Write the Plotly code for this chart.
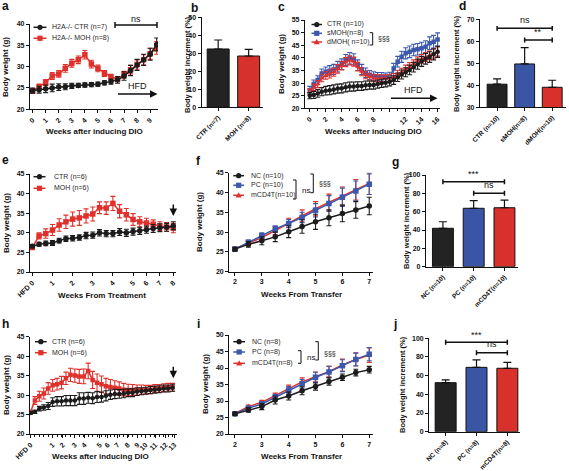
import plotly.graph_objects as go

W, H = 569, 471
FONT = 'Liberation Sans'
BLACK = '#1c1c1c'
RED = '#e0302c'
BLUE = '#3b58ad'
BAR_RED = '#d8302b'
BAR_BLUE = '#3a55a5'
BAR_BLACK = '#232323'

# ---------------- data ----------------
# panel a
a_weeks = [0, 0.5, 1, 1.5, 2, 2.5, 3, 3.5, 4, 4.5, 5, 5.5, 6, 6.5, 7, 7.5, 8, 8.5, 9, 9.5]
a_ctr = [24.4, 24.6, 24.8, 25.0, 25.2, 25.3, 25.5, 25.6, 25.7, 25.8, 25.9, 26.2, 26.5, 26.9, 27.8, 29.1, 30.4, 31.6, 32.9, 35.2]
a_ctr_err = [0.6, 0.8, 0.9, 0.9, 0.8, 0.7, 0.6, 0.5, 0.5, 0.5, 0.5, 0.5, 0.6, 0.8, 1.0, 1.2, 1.3, 1.3, 1.4, 1.5]
a_moh = [24.3, 25.3, 26.3, 27.8, 28.3, 29.6, 30.8, 31.6, 32.8, 30.6, 29.6, 28.4, 27.6, 27.1, 28.1, 29.3, 30.5, 31.6, 33.0, 34.4]
a_moh_err = [0.5, 0.6, 0.7, 0.8, 0.8, 0.9, 0.9, 0.9, 1.0, 0.9, 0.8, 0.7, 0.6, 0.6, 0.8, 1.0, 1.1, 1.2, 1.3, 1.5]
a_names = ['H2A-/- CTR (n=7)', 'H2A-/- MOH (n=8)']

# panel b
b_cats = ['CTR (n=7)', 'MOH (n=8)']
b_vals = [32.4, 28.5]
b_err = [5.0, 3.7]

# panel c
c_weeks = [0, 0.5, 1, 1.5, 2, 2.5, 3, 3.5, 4, 4.5, 5, 5.5, 6, 6.5, 7, 7.5, 8, 8.5,
           9, 9.5, 10, 10.5, 11, 11.5, 12, 12.5, 13, 13.5, 14, 14.5, 15, 15.5, 16]
c_ctr = [25.0, 25.3, 25.9, 26.6, 27.0, 27.2, 27.5, 27.8, 27.9, 28.3, 28.6, 28.6, 28.8, 28.8, 29.1, 29.2, 29.2,
         29.6, 29.9, 30.1, 30.5, 31.2, 32.3, 33.4, 34.3, 35.2, 36.3, 37.5, 38.6, 39.6, 40.3, 41.4, 42.4]
c_ctr_err = [1.2, 1.4, 1.5, 1.6, 1.7, 1.8, 1.8, 1.8, 1.8, 1.8, 1.8, 1.8, 1.7, 1.7, 1.7, 1.6, 1.6,
             1.6, 1.6, 1.6, 1.6, 1.7, 1.7, 1.8, 1.8, 1.9, 1.9, 2.0, 2.0, 2.1, 2.1, 2.2, 2.2]
c_smoh = [27.2, 29.6, 31.2, 33.8, 34.5, 34.9, 35.4, 36.5, 37.5, 39.1, 39.8, 39.4, 37.1, 35.4, 34.1, 33.2, 32.8,
          32.5, 32.5, 32.3, 32.5, 35.8, 38.5, 40.4, 41.8, 42.4, 43.1, 43.4, 43.8, 44.4, 45.8, 46.4, 47.3]
c_smoh_err = [1.5, 1.6, 1.7, 1.8, 1.9, 2.0, 2.0, 2.1, 2.1, 2.2, 2.3, 2.2, 2.1, 2.0, 1.9, 1.8, 1.7,
              1.7, 1.7, 1.7, 1.8, 2.0, 2.1, 2.2, 2.2, 2.3, 2.3, 2.3, 2.4, 2.4, 2.5, 2.5, 2.6]
c_dmoh = [26.5, 28.3, 29.6, 32.0, 33.0, 33.6, 34.3, 35.6, 36.9, 38.3, 39.0, 38.5, 36.5, 34.5, 33.2, 32.5, 31.9,
          31.9, 31.9, 31.9, 31.9, 32.4, 33.6, 34.4, 35.6, 36.5, 37.6, 38.8, 39.6, 40.3, 41.0, 41.7, 42.5]
c_dmoh_err = [1.2, 1.3, 1.4, 1.5, 1.5, 1.6, 1.6, 1.7, 1.7, 1.8, 1.8, 1.8, 1.7, 1.6, 1.5, 1.4, 1.4,
              1.4, 1.4, 1.4, 1.4, 1.4, 1.5, 1.5, 1.5, 1.6, 1.6, 1.6, 1.7, 1.7, 1.7, 1.8, 1.8]
c_names = ['CTR (n=10)', 'sMOH(n=8)', 'dMOH( n=10)']

# panel d
d_cats = ['CTR (n=10)', 'sMOH(n=8)', 'dMOH(n=10)']
d_vals = [40.5, 49.7, 39.1]
d_err = [2.4, 7.4, 3.2]

# panel e
e_idx = [0, 1, 2, 3, 4, 5, 6, 7, 8, 9, 10, 11, 12, 13, 14, 15, 16, 17, 18, 19, 20, 21]
e_tickpos = [0, 3, 6, 9, 12, 15, 17, 19, 21]
e_ticklabels = ['HFD 0', '1', '2', '3', '4', '5', '6', '7', '8']
e_ctr = [26.6, 27.1, 27.3, 27.4, 28.0, 28.5, 28.6, 28.8, 29.3, 29.4, 30.0, 29.8, 29.8, 30.2, 30.0, 30.3,
         30.5, 30.8, 31.1, 31.3, 31.4, 31.8]
e_ctr_err = [0.4, 0.5, 0.6, 0.6, 0.6, 0.7, 0.7, 0.7, 0.8, 0.8, 0.8, 0.8, 0.8, 0.9, 0.9, 0.9,
             0.9, 0.9, 1.0, 1.0, 1.0, 1.0]
e_moh = [26.3, 29.2, 29.8, 30.7, 32.0, 32.8, 33.5, 33.8, 34.3, 34.8, 36.4, 36.3, 37.5, 35.5, 34.6, 33.4,
         32.8, 32.5, 32.2, 31.7, 31.5, 31.2]
e_moh_err = [0.6, 0.8, 1.2, 1.4, 1.6, 1.7, 1.8, 1.9, 1.8, 1.8, 1.5, 1.6, 1.8, 1.7, 1.6, 1.5,
             1.3, 1.2, 1.1, 1.1, 1.1, 1.2]
e_names = ['CTR (n=6)', 'MOH (n=6)']

# panel f
f_weeks = [2, 2.5, 3, 3.5, 4, 4.5, 5, 5.5, 6, 6.5, 7]
f_nc = [25.7, 26.9, 27.8, 28.8, 30.1, 31.4, 32.6, 33.6, 34.7, 35.6, 36.6]
f_nc_err = [0.4, 0.7, 1.0, 1.2, 1.5, 1.7, 1.9, 2.0, 2.1, 2.1, 2.2]
f_pc = [25.7, 27.4, 29.1, 30.8, 32.2, 33.7, 35.5, 37.2, 38.8, 40.4, 42.1]
f_pc_err = [0.5, 0.6, 0.7, 0.8, 1.0, 1.3, 1.7, 2.0, 2.3, 2.5, 2.6]
f_cd4 = [25.8, 27.3, 28.6, 30.4, 32.3, 34.1, 35.9, 37.5, 39.1, 40.7, 42.3]
f_cd4_err = [0.4, 0.6, 0.8, 1.0, 1.2, 1.5, 1.8, 2.1, 2.3, 2.6, 2.8]
f_names = ['NC (n=10)', 'PC (n=10)', 'mCD4T(n=10)']

# panel g
g_cats = ['NC (n=10)', 'PC (n=10)', 'mCD4T(n=10)']
g_vals = [41.9, 63.7, 64.3]
g_err = [7.1, 8.3, 8.4]

# panel h
h_idx = [0, 1, 2, 3, 4, 5, 6, 7, 8, 9, 10, 11, 12, 13, 14, 15, 16, 17, 18, 19, 20,
         21, 22, 23, 24, 25, 26, 27, 28, 29, 30, 31, 32]
h_tickpos = [0, 5, 7.3, 10, 12.2, 15.6, 17.4, 19.6, 21.9, 24.1, 25.9, 28.1, 30.4, 32.4]
h_ticklabels = ['HFD 0', '1', '2', '3', '4', '5', '6', '7', '8', '9', '10', '11', '12', '13']
h_ctr = [25.4, 25.7, 26.5, 26.8, 27.2, 28.2, 28.4, 28.4, 28.6, 28.6, 28.6, 29.1, 29.1, 29.3, 29.2, 29.5, 29.5,
         29.8, 30.1, 30.3, 30.3, 30.4, 30.6, 30.6, 30.9, 31.0, 31.1, 31.3, 31.4, 31.5, 31.7, 31.7, 31.9]
h_ctr_err = [0.3, 0.4, 0.6, 0.7, 0.9, 1.1, 1.2, 1.2, 1.3, 1.3, 1.3, 1.5, 1.5, 1.4, 1.4, 1.4, 1.3,
             1.3, 1.2, 1.2, 1.1, 1.1, 1.0, 1.0, 1.0, 0.9, 0.9, 0.9, 0.9, 0.9, 0.9, 0.9, 0.9]
h_moh = [25.6, 28.6, 29.7, 30.4, 31.7, 32.5, 32.8, 33.2, 34.3, 35.2, 35.0, 34.8, 34.8, 36.2, 33.9, 33.2, 32.8,
         32.3, 32.1, 31.9, 31.7, 31.4, 31.3, 31.3, 31.3, 31.4, 31.4, 31.4, 31.7, 31.7, 31.9, 32.0, 32.0]
h_moh_err = [0.5, 1.0, 1.3, 1.4, 1.5, 1.5, 1.5, 1.6, 1.6, 1.7, 1.7, 1.8, 1.9, 2.0, 2.2, 2.2, 2.1,
             2.0, 1.9, 1.8, 1.7, 1.6, 1.5, 1.4, 1.3, 1.2, 1.1, 1.1, 1.0, 1.0, 1.0, 1.0, 1.0]
h_names = ['CTR (n=6)', 'MOH (n=6)']

# panel i
i_weeks = [2, 2.5, 3, 3.5, 4, 4.5, 5, 5.5, 6, 6.5, 7]
i_nc = [26.1, 27.3, 28.3, 30.3, 31.5, 33.1, 34.4, 35.9, 37.2, 38.6, 39.5]
i_nc_err = [0.4, 0.7, 0.9, 1.2, 1.2, 1.2, 1.1, 1.1, 1.0, 1.0, 1.0]
i_pc = [26.1, 27.8, 29.1, 31.1, 33.3, 35.2, 37.2, 38.8, 40.7, 42.6, 44.2]
i_pc_err = [0.4, 0.6, 0.7, 0.9, 1.1, 1.3, 1.5, 1.7, 1.8, 1.9, 2.0]
i_cd4 = [26.2, 28.3, 29.6, 31.6, 33.8, 35.8, 37.4, 38.9, 40.9, 42.6, 43.9]
i_cd4_err = [0.4, 0.5, 0.6, 0.8, 1.0, 1.2, 1.4, 1.6, 1.8, 2.0, 2.2]
i_names = ['NC (n=8)', 'PC (n=8)', 'mCD4T(n=8)']

# panel j
j_cats = ['NC (n=8)', 'PC (n=8)', 'mCD4T(n=8)']
j_vals = [52.5, 68.9, 67.9]
j_err = [2.9, 7.9, 6.4]

# ---------------- helpers ----------------
def px(x):
    return x / W


def py(y):
    return 1 - y / H


fig = go.Figure()
shapes = []
annotations = []
layout = {}

# panel frames in pixels: x0, x1, ytop, ybottom
FRAMES = {
    1: (30, 158, 24, 109.3),
    2: (201.7, 263, 17.3, 107.3),
    3: (305, 440, 20, 108.3),
    4: (480, 566, 19.3, 107.3),
    5: (30, 176, 174, 272),
    6: (229.3, 373, 172.7, 271.7),
    7: (426, 518, 175, 266.7),
    8: (30, 177, 336.7, 434),
    9: (229.3, 373, 335, 434),
    10: (429.3, 520, 338.3, 431.7),
}

TICKFONT = dict(family=FONT, size=7, color='#111', weight='bold')
LEGSIZE = 7


def base_axis():
    return dict(showline=True, linecolor='#111', linewidth=1.3, ticks='outside', ticklen=3,
                tickwidth=1.1, tickcolor='#111', showgrid=False, zeroline=False, automargin=False,
                tickfont=TICKFONT, fixedrange=True)


def make_axes(n, xr, yr, ydtick, xextra=None, yextra=None):
    x0, x1, yt, yb = FRAMES[n]
    xa = base_axis()
    xa.update(domain=[px(x0), px(x1)], range=xr, anchor='y%d' % n)
    if xextra:
        xa.update(xextra)
    ya = base_axis()
    ya.update(domain=[py(yb), py(yt)], range=yr, anchor='x%d' % n, dtick=ydtick, tick0=0)
    if yextra:
        ya.update(yextra)
    layout['xaxis%d' % n] = xa
    layout['yaxis%d' % n] = ya


def line_trace(n, x, y, err, color, symbol, size=5.5):
    fig.add_trace(go.Scatter(
        x=x, y=y, xaxis='x%d' % n, yaxis='y%d' % n, mode='lines+markers',
        line=dict(color=color, width=1.5),
        marker=dict(color=color, symbol=symbol, size=size, line=dict(width=0)),
        error_y=dict(type='data', array=err, color=color, thickness=1.1, width=2.5),
        showlegend=False, hoverinfo='skip'))


def bar_trace(n, cats, vals, err, colors, width):
    fig.add_trace(go.Bar(
        x=list(range(len(cats))), y=vals, xaxis='x%d' % n, yaxis='y%d' % n, width=width,
        marker=dict(color=colors, line=dict(color='#111', width=1)),
        error_y=dict(type='data', symmetric=False, array=err, arrayminus=[0] * len(cats),
                     color='#111', thickness=1.2, width=4),
        showlegend=False, hoverinfo='skip'))


def text(x, y, s, size=8, bold=False, xanchor='center', yanchor='middle', angle=0, color='#111'):
    annotations.append(dict(x=px(x), y=py(y), xref='paper', yref='paper', text=s, showarrow=False,
                            xanchor=xanchor, yanchor=yanchor, textangle=angle,
                            font=dict(family=FONT, size=size, color=color,
                                      weight='bold' if bold else 'normal')))


def pline(x0, y0, x1, y1, color='#111', width=1.2):
    shapes.append(dict(type='line', xref='paper', yref='paper', x0=px(x0), y0=py(y0), x1=px(x1), y1=py(y1),
                       line=dict(color=color, width=width)))


def legend_entry(lx0, lx1, y, color, symbol, label, tx):
    pline(lx0, y, lx1, y, color=color, width=1.5)
    cx = (lx0 + lx1) / 2
    r = 2.6
    if symbol == 'circle':
        shapes.append(dict(type='circle', xref='paper', yref='paper', x0=px(cx - r), x1=px(cx + r),
                           y0=py(y + r), y1=py(y - r), fillcolor=color, line=dict(width=0)))
    elif symbol == 'square':
        shapes.append(dict(type='rect', xref='paper', yref='paper', x0=px(cx - r), x1=px(cx + r),
                           y0=py(y + r), y1=py(y - r), fillcolor=color, line=dict(width=0)))
    else:
        path = 'M %f %f L %f %f L %f %f Z' % (px(cx - 3), py(y + 2.2), px(cx + 3), py(y + 2.2), px(cx), py(y - 3))
        shapes.append(dict(type='path', xref='paper', yref='paper', path=path, fillcolor=color,
                           line=dict(width=0)))
    text(tx, y, label, size=LEGSIZE, xanchor='left', color='#2a2a2a')


def rbracket(x, y0, y1):
    pline(x - 3, y0, x, y0, width=1)
    pline(x, y0, x, y1, width=1)
    pline(x - 3, y1, x, y1, width=1)


def sig_bar(n, i0, i1, v, cap, label, dv):
    xr, yr = 'x%d' % n, 'y%d' % n
    shapes.append(dict(type='line', xref=xr, yref=yr, x0=i0, x1=i1, y0=v, y1=v, line=dict(color='#111', width=1.5)))
    shapes.append(dict(type='line', xref=xr, yref=yr, x0=i0, x1=i0, y0=v - cap, y1=v + cap, line=dict(color='#111', width=1.5)))
    shapes.append(dict(type='line', xref=xr, yref=yr, x0=i1, x1=i1, y0=v - cap, y1=v + cap, line=dict(color='#111', width=1.5)))
    annotations.append(dict(x=(i0 + i1) / 2, y=v + dv, xref=xr, yref=yr, text=label, showarrow=False,
                            yanchor='bottom', font=dict(family=FONT, size=9, color='#111')))


def arrow(x_head, y_head, ax, ay):
    annotations.append(dict(x=px(x_head), y=py(y_head), xref='paper', yref='paper', ax=ax, ay=ay,
                            showarrow=True, arrowhead=2, arrowsize=1, arrowwidth=1.5,
                            arrowcolor='#111', text=''))


bar_tickfont = dict(family=FONT, size=6.5, color='#111', weight='bold')

# ---------------- panel a ----------------
make_axes(1, [-0.2, 9.6], [20, 40], 5,
          xextra=dict(tickmode='array', tickvals=list(range(10)), tickangle=-45))
line_trace(1, a_weeks, a_moh, a_moh_err, RED, 'square')
line_trace(1, a_weeks, a_ctr, a_ctr_err, BLACK, 'circle')
legend_entry(33.5, 46.5, 27.3, BLACK, 'circle', a_names[0], 50)
legend_entry(33.5, 46.5, 38.3, RED, 'square', a_names[1], 50)
pline(115, 25, 157, 25, width=1.5)
pline(115, 22, 115, 28, width=1.5)
pline(157, 22, 157, 28, width=1.5)
text(136, 19, 'ns', size=9)
arrow(157.5, 94, -41, 0)
text(137, 86, 'HFD', size=9)
text(94, 132, 'Weeks after inducing DIO', size=8, bold=True)
text(6, 67, 'Body weight (g)', size=8, bold=True, angle=-90)
text(5, 6, 'a', size=12, bold=True)

# ---------------- panel b ----------------
make_axes(2, [-0.54, 1.47], [0, 50], 10,
          xextra=dict(tickmode='array', tickvals=[0, 1], ticktext=b_cats, tickangle=-45, tickfont=bar_tickfont))
bar_trace(2, b_cats, b_vals, b_err, [BAR_BLACK, BAR_RED], 0.72)
text(188, 65, 'Body weight increment (%)', size=7.5, bold=True, angle=-90)
text(194, 8, 'b', size=12, bold=True)

# ---------------- panel c ----------------
make_axes(3, [-0.6, 16.3], [20, 55], 5,
          xextra=dict(tickmode='array', tickvals=[0, 2, 4, 6, 8, 10, 12, 14, 16], ticktext=['0', '2', '4', '6', '8', '', '12', '14', '16'],
                      tickangle=-45, minor=dict(dtick=1, tick0=0, ticks='outside', ticklen=2, tickcolor='#111')))
line_trace(3, c_weeks, c_smoh, c_smoh_err, BLUE, 'square', 4.5)
line_trace(3, c_weeks, c_dmoh, c_dmoh_err, RED, 'triangle-up', 4.5)
line_trace(3, c_weeks, c_ctr, c_ctr_err, BLACK, 'circle', 4.5)
legend_entry(311.5, 322, 24.5, BLACK, 'circle', c_names[0], 325)
legend_entry(311.5, 322, 33.3, BLUE, 'square', c_names[1], 325)
legend_entry(311.5, 322, 42, RED, 'triangle', c_names[2], 325)
rbracket(372.7, 32.7, 45)
text(376, 39, '§§§', size=7, xanchor='left')
arrow(437.5, 98.3, -48, 0)
text(413, 90, 'HFD', size=9)
text(373, 132, 'Weeks after inducing DIO', size=8, bold=True)
text(282, 64, 'Body weight (g)', size=8, bold=True, angle=-90)
text(281, 7, 'c', size=12, bold=True)

# ---------------- panel d ----------------
make_axes(4, [-0.62, 2.5], [30, 70], 10,
          xextra=dict(tickmode='array', tickvals=[0, 1, 2], ticktext=d_cats, tickangle=-45, tickfont=bar_tickfont))
bar_trace(4, d_cats, d_vals, d_err, [BAR_BLACK, BAR_BLUE, BAR_RED], 0.72)
sig_bar(4, 0, 2, 65.9, 1.1, 'ns', 0.8)
sig_bar(4, 1, 2, 60.6, 1.1, '**', 0.6)
text(457, 64, 'Body weight increment (%)', size=7.5, bold=True, angle=-90)
text(462, 6, 'd', size=12, bold=True)

# ---------------- panel e ----------------
make_axes(5, [-0.35, 21.4], [20, 45], 5,
          xextra=dict(tickmode='array', tickvals=e_tickpos, ticktext=e_ticklabels, tickangle=-45))
line_trace(5, e_idx, e_moh, e_moh_err, RED, 'square')
line_trace(5, e_idx, e_ctr, e_ctr_err, BLACK, 'circle')
legend_entry(33.5, 45.5, 176.7, BLACK, 'circle', e_names[0], 51.7)
legend_entry(33.5, 45.5, 188.3, RED, 'square', e_names[1], 51.7)
arrow(173.3, 216, 0, -13)
text(102, 295, 'Weeks From Treatment', size=8, bold=True)
text(6, 223, 'Body weight (g)', size=8, bold=True, angle=-90)
text(5, 160, 'e', size=12, bold=True)

# ---------------- panel f ----------------
make_axes(6, [1.79, 7.14], [20, 45], 5, xextra=dict(dtick=1, tick0=0))
line_trace(6, f_weeks, f_cd4, f_cd4_err, RED, 'triangle-up')
line_trace(6, f_weeks, f_pc, f_pc_err, BLUE, 'square')
line_trace(6, f_weeks, f_nc, f_nc_err, BLACK, 'circle')
legend_entry(233.3, 244, 175.7, BLACK, 'circle', f_names[0], 249.3)
legend_entry(233.3, 244, 185.3, BLUE, 'square', f_names[1], 249.3)
legend_entry(233.3, 244, 195.3, RED, 'triangle', f_names[2], 249.3)
rbracket(296, 180, 199)
text(300, 190.5, 'ns', size=8, xanchor='left')
rbracket(313.3, 174, 192.7)
text(316.5, 183.3, '§§§', size=7, xanchor='left')
text(302, 294.5, 'Weeks From Transfer', size=8, bold=True)
text(199, 222, 'Body weight (g)', size=8, bold=True, angle=-90)
text(199, 161, 'f', size=12, bold=True)

# ---------------- panel g ----------------
make_axes(7, [-0.55, 2.44], [0, 100], 20,
          xextra=dict(tickmode='array', tickvals=[0, 1, 2], ticktext=g_cats, tickangle=-45, tickfont=bar_tickfont))
bar_trace(7, g_cats, g_vals, g_err, [BAR_BLACK, BAR_BLUE, BAR_RED], 0.68)
sig_bar(7, 0, 2, 92.7, 2.7, '***', 0.5)
sig_bar(7, 1, 2, 80, 2.7, 'ns', 1.5)
text(406, 221, 'Body weight increment (%)', size=7.5, bold=True, angle=-90)
text(395, 162, 'g', size=12, bold=True)

# ---------------- panel h ----------------
make_axes(8, [-0.1, 33], [20, 45], 5,
          xextra=dict(tickmode='array', tickvals=h_tickpos, ticktext=h_ticklabels, tickangle=-45,
                      minor=dict(tickmode='array', tickvals=h_idx, ticks='outside', ticklen=2, tickcolor='#111')))
line_trace(8, h_idx, h_moh, h_moh_err, RED, 'square', 4.5)
line_trace(8, h_idx, h_ctr, h_ctr_err, BLACK, 'circle', 4.5)
legend_entry(35, 46.7, 341.7, BLACK, 'circle', h_names[0], 50)
legend_entry(35, 46.7, 352.7, RED, 'square', h_names[1], 50)
arrow(173.3, 378.3, 0, -13)
text(100, 456.7, 'Weeks after inducing DIO', size=8, bold=True)
text(6, 385, 'Body weight (g)', size=8, bold=True, angle=-90)
text(5, 324, 'h', size=12, bold=True)

# ---------------- panel i ----------------
make_axes(9, [1.79, 7.14], [20, 50], 5, xextra=dict(dtick=1, tick0=0))
line_trace(9, i_weeks, i_cd4, i_cd4_err, RED, 'triangle-up')
line_trace(9, i_weeks, i_pc, i_pc_err, BLUE, 'square')
line_trace(9, i_weeks, i_nc, i_nc_err, BLACK, 'circle')
legend_entry(233.3, 245, 341.7, BLACK, 'circle', i_names[0], 250)
legend_entry(233.3, 245, 352, BLUE, 'square', i_names[1], 250)
legend_entry(233.3, 245, 363.3, RED, 'triangle', i_names[2], 250)
rbracket(301, 350.7, 363.3)
text(305, 357.5, 'ns', size=8, xanchor='left')
rbracket(318.3, 341.7, 360)
text(321.5, 353.3, '§§§', size=7, xanchor='left')
text(302, 456.7, 'Weeks From Transfer', size=8, bold=True)
text(205, 384, 'Body weight (g)', size=8, bold=True, angle=-90)
text(199, 324, 'i', size=12, bold=True)

# ---------------- panel j ----------------
make_axes(10, [-0.53, 2.41], [0, 100], 20,
          xextra=dict(tickmode='array', tickvals=[0, 1, 2], ticktext=j_cats, tickangle=-45, tickfont=bar_tickfont))
bar_trace(10, j_cats, j_vals, j_err, [BAR_BLACK, BAR_BLUE, BAR_RED], 0.68)
sig_bar(10, 0, 2, 95.7, 2.7, '***', 0.5)
sig_bar(10, 1, 2, 84.6, 2.7, 'ns', 1.5)
text(402, 385, 'Body weight increment (%)', size=7.5, bold=True, angle=-90)
text(395, 324, 'j', size=12, bold=True)

fig.update_layout(
    template='none',
    width=W, height=H, margin=dict(l=0, r=0, t=0, b=0, pad=0), autosize=False,
    paper_bgcolor='white', plot_bgcolor='rgba(0,0,0,0)',
    showlegend=False, shapes=shapes, annotations=annotations,
    font=dict(family=FONT, color='#111'),
    **layout)

fig.write_html('out.html', config=dict(displayModeBar=False),
               post_script="document.body.style.margin='0';document.body.style.padding='0';document.body.style.overflow='hidden';")
